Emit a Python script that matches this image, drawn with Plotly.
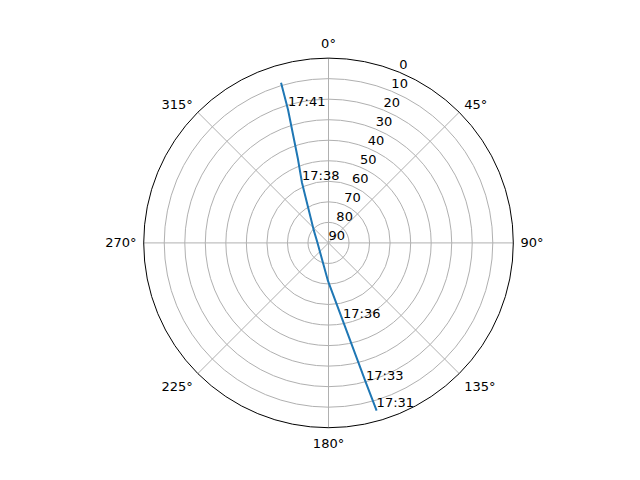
import plotly.graph_objects as go

# satellite pass, azimuth (deg) / elevation (deg), in time order
azimuth = [164.0, 165.0, 169.5, 180.8, 198.4, 275.1, 309.6, 336.2, 340.0, 343.1, 343.5]
elevation = [5.0, 19.3, 51.3, 71.5, 80.7, 84.5, 80.8, 58.0, 46.4, 22.2, 8.6]
time_labels = ["17:31", "17:33", "17:36", "", "", "", "", "17:38", "", "17:41", ""]

r_ticks = [0, 10, 20, 30, 40, 50, 60, 70, 80, 90]
theta_ticks = [0, 45, 90, 135, 180, 225, 270, 315]
r_label_angle = 22.5

font = dict(family="DejaVu Sans", size=13, color="black")

fig = go.Figure()
fig.add_trace(go.Scatterpolar(
    r=elevation,
    theta=azimuth,
    mode="lines",
    line=dict(color="#1f77b4", width=2),
    hoverinfo="skip",
))

lab_r = [e for e, t in zip(elevation, time_labels) if t]
lab_th = [a for a, t in zip(azimuth, time_labels) if t]
lab_tx = [t for t in time_labels if t]
fig.add_trace(go.Scatterpolar(
    r=lab_r,
    theta=lab_th,
    mode="text",
    text=lab_tx,
    textposition="top right",
    textfont=font,
    hoverinfo="skip",
))

# radial tick labels, matplotlib style (bottom-left anchored at 22.5 deg)
fig.add_trace(go.Scatterpolar(
    r=r_ticks,
    theta=[r_label_angle] * len(r_ticks),
    mode="text",
    text=[str(v) for v in r_ticks],
    textposition="top right",
    textfont=font,
    hoverinfo="skip",
    cliponaxis=False,
))

fig.update_layout(
    width=640, height=480,
    margin=dict(l=0, r=0, t=0, b=0),
    paper_bgcolor="white",
    showlegend=False,
    font=font,
    polar=dict(
        # page body has an 8px margin, so pull the domain back up-left
        domain=dict(x=[0.1133, 0.8883], y=[0.1256, 0.8956]),
        bgcolor="white",
        radialaxis=dict(
            range=[90, 0],
            tickvals=r_ticks,
            showticklabels=False,
            showline=False,
            ticks="",
            gridcolor="#b0b0b0",
            gridwidth=1,
        ),
        angularaxis=dict(
            rotation=90,
            direction="clockwise",
            tickvals=theta_ticks,
            ticktext=[f"{t}°" for t in theta_ticks],
            ticks="outside",
            ticklen=4,
            tickcolor="rgba(0,0,0,0)",
            showline=True,
            linecolor="black",
            linewidth=1,
            gridcolor="#b0b0b0",
            gridwidth=1,
            tickfont=font,
        ),
    ),
)

fig.write_html("out.html")
